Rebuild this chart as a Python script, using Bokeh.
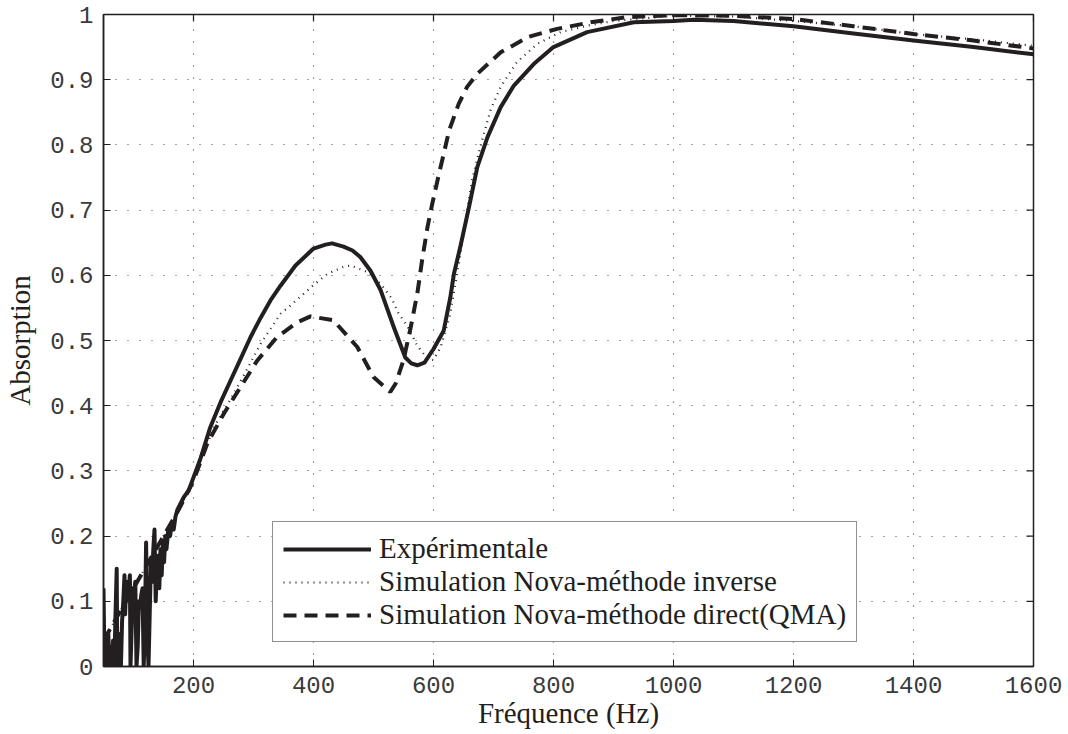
from bokeh.plotting import figure
from bokeh.models import Range1d, FixedTicker, Legend, LegendItem
from bokeh.embed import file_html
from bokeh.resources import INLINE

# ---- data ----
exp_low_f = [50, 51, 52, 54, 56, 58, 60, 62, 64, 66, 68, 70, 72, 73, 75, 77, 79, 81, 83, 85,
             86, 88, 90, 92, 94, 95, 97, 99, 101, 103, 105, 107, 109, 111, 113, 115, 117, 119,
             121, 123, 125, 127, 129, 131, 133, 135, 137, 139, 141, 143, 145, 147, 149, 151,
             153, 155, 158, 161, 164, 167, 170]
exp_low_a = [0.12, 0.05, 0.0, 0.04, 0.0, 0.05, 0.0, 0.03, 0.0, 0.04, 0.0, 0.08, 0.15, 0.0,
             0.02, 0.05, 0.0, 0.07, 0.10, 0.14, 0.08, 0.13, 0.11, 0.12, 0.14, 0.0, 0.06, 0.12,
             0.11, 0.13, 0.0, 0.03, 0.10, 0.09, 0.11, 0.12, 0.0, 0.06, 0.19, 0.05, 0.0, 0.08,
             0.16, 0.13, 0.18, 0.21, 0.10, 0.15, 0.17, 0.12, 0.18, 0.14, 0.19, 0.16, 0.20,
             0.18, 0.21, 0.20, 0.22, 0.21, 0.23]
exp_f = [173, 184, 192, 200, 212, 228, 245, 262, 280, 295, 312, 328, 345, 370, 400, 420, 431,
         450, 465, 478, 495, 512, 534, 553, 563, 573, 585, 600, 617, 628, 634, 645, 659, 673,
         690, 712, 734, 767, 800, 856, 934, 1000, 1034, 1100, 1200, 1300, 1400, 1500, 1600]
exp_a = [0.24, 0.26, 0.27, 0.29, 0.32, 0.367, 0.405, 0.439, 0.475, 0.505, 0.535, 0.561, 0.584,
         0.615, 0.641, 0.647, 0.649, 0.644, 0.638, 0.628, 0.607, 0.577, 0.52, 0.474, 0.465,
         0.462, 0.466, 0.487, 0.515, 0.566, 0.602, 0.645, 0.704, 0.766, 0.812, 0.858, 0.891,
         0.924, 0.95, 0.973, 0.988, 0.99, 0.992, 0.99, 0.982, 0.971, 0.96, 0.95, 0.939]

inv_f = [50, 75, 100, 125, 150, 175, 200, 234, 267, 312, 345, 362, 400, 423, 450, 462, 490,
         512, 530, 542, 556, 573, 590, 600, 612, 628, 645, 664, 678, 695, 712, 739, 773, 812,
         856, 900, 1000, 1100, 1200, 1300, 1400, 1500, 1600]
inv_a = [0.04, 0.08, 0.12, 0.16, 0.20, 0.24, 0.288, 0.367, 0.418, 0.495, 0.541, 0.554, 0.585,
         0.602, 0.613, 0.615, 0.605, 0.587, 0.565, 0.541, 0.523, 0.492, 0.472, 0.47, 0.49,
         0.541, 0.633, 0.745, 0.797, 0.853, 0.889, 0.927, 0.955, 0.973, 0.983, 0.99, 0.998,
         0.997, 0.99, 0.982, 0.97, 0.962, 0.952]

qma_f = [50, 75, 100, 125, 150, 175, 200, 223, 250, 278, 306, 339, 373, 395, 433, 473, 500,
         528, 537, 550, 562, 573, 581, 590, 598, 609, 617, 626, 642, 656, 673, 712, 759, 806,
         862, 923, 1000, 1100, 1200, 1300, 1400, 1500, 1600]
qma_a = [0.04, 0.08, 0.12, 0.16, 0.20, 0.24, 0.285, 0.342, 0.387, 0.428, 0.469, 0.505, 0.528,
         0.537, 0.531, 0.49, 0.444, 0.421, 0.434, 0.47, 0.52, 0.572, 0.623, 0.674, 0.71,
         0.755, 0.786, 0.822, 0.863, 0.889, 0.909, 0.942, 0.966, 0.978, 0.988, 0.996, 0.999,
         0.998, 0.993, 0.982, 0.97, 0.96, 0.948]

x_ticks = [200, 400, 600, 800, 1000, 1200, 1400, 1600]
y_ticks = [0, 0.1, 0.2, 0.3, 0.4, 0.5, 0.6, 0.7, 0.8, 0.9, 1]
y_tick_labels = ["0", "0.1", "0.2", "0.3", "0.4", "0.5", "0.6", "0.7", "0.8", "0.9", "1"]
x_min, x_max = 50, 1600
y_min, y_max = 0, 1

labels = ["Expérimentale", "Simulation Nova-méthode inverse",
          "Simulation Nova-méthode direct(QMA)"]
x_label = "Fréquence (Hz)"
y_label = "Absorption"

INK = "#231f20"
MONO = "Liberation Mono"
SERIF = "Liberation Serif"
FRAME_W, FRAME_H = 930, 652
TICK_LEN = 7

p = figure(width=1068, height=734, output_backend="svg", toolbar_location=None,
           x_range=Range1d(x_min, x_max), y_range=Range1d(y_min, y_max),
           min_border_left=103, min_border_right=35, min_border_top=14,
           min_border_bottom=68)
p.background_fill_color = "white"
p.border_fill_color = "white"
p.outline_line_color = INK
p.outline_line_width = 1.5

for ax in (p.xaxis[0], p.yaxis[0]):
    ax.major_tick_in = TICK_LEN
    ax.major_tick_out = 0
    ax.minor_tick_line_color = None
    ax.axis_line_color = INK
    ax.axis_line_width = 1.5
    ax.major_tick_line_color = INK
    ax.major_tick_line_width = 1
    ax.major_label_text_font = MONO
    ax.major_label_text_font_size = "24px"
    ax.major_label_text_color = "#3a3a3a"
    ax.axis_label_text_font = SERIF
    ax.axis_label_text_font_size = "29px"
    ax.axis_label_text_font_style = "normal"
    ax.axis_label_text_color = INK

p.xaxis[0].ticker = FixedTicker(ticks=x_ticks)
p.yaxis[0].ticker = FixedTicker(ticks=y_ticks)
p.yaxis[0].major_label_overrides = dict(zip(y_ticks, y_tick_labels))
p.xaxis[0].axis_label = x_label
p.yaxis[0].axis_label = y_label
p.xaxis[0].major_label_standoff = 10
p.xaxis[0].axis_label_standoff = 1
p.yaxis[0].major_label_standoff = 10
p.yaxis[0].axis_label_standoff = 11

# grid
for g in (p.xgrid[0], p.ygrid[0]):
    g.grid_line_color = "#444444"
    g.grid_line_dash = "1 11"
    g.grid_line_width = 1.2
p.xgrid[0].ticker = FixedTicker(ticks=x_ticks)
p.ygrid[0].ticker = FixedTicker(ticks=y_ticks)

# inward box ticks on the top and right edges (from the tick lists)
dy = TICK_LEN * (y_max - y_min) / FRAME_H
dx = TICK_LEN * (x_max - x_min) / FRAME_W
p.segment(x0=x_ticks, y0=[y_max] * len(x_ticks), x1=x_ticks, y1=[y_max - dy] * len(x_ticks),
          line_color=INK, line_width=1.2)
p.segment(x0=[x_max] * len(y_ticks), y0=y_ticks, x1=[x_max - dx] * len(y_ticks), y1=y_ticks,
          line_color=INK, line_width=1.2)

# curves
r_exp = p.line(exp_low_f + exp_f, exp_low_a + exp_a, line_color=INK, line_width=4,
               line_join="round")
r_inv = p.line(inv_f, inv_a, line_color=INK, line_width=2.2, line_dash="1 5")
r_qma = p.line(qma_f, qma_a, line_color=INK, line_width=4, line_dash="13 8")

legend = Legend(items=[LegendItem(label=labels[0], renderers=[r_exp]),
                       LegendItem(label=labels[1], renderers=[r_inv]),
                       LegendItem(label=labels[2], renderers=[r_qma])],
                location=(169, 24), margin=0, padding=10, spacing=0,
                glyph_width=88, glyph_height=28, label_height=28, label_standoff=8,
                label_text_font=SERIF, label_text_font_size="29px",
                label_text_color=INK,
                border_line_color=INK, border_line_width=1.5,
                background_fill_color="white", background_fill_alpha=1)
p.add_layout(legend, "center")

open("out.html", "w").write(file_html(p, INLINE))
